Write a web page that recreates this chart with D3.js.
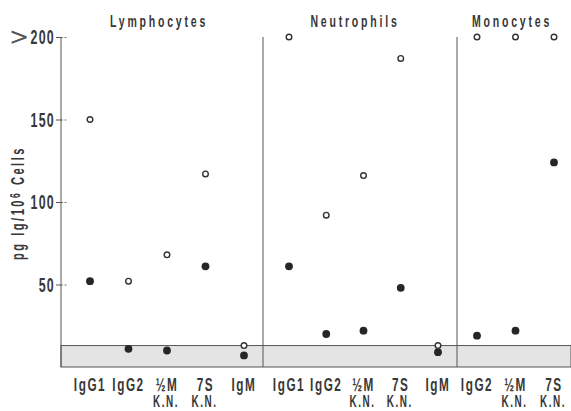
<!DOCTYPE html>
<html>
<head>
<meta charset="utf-8">
<script src="https://cdn.jsdelivr.net/npm/d3@7"></script>
<style>
  body { margin: 0; background: #fff; }
  svg { display: block; }
  text { font-family: "Liberation Sans", Arial, sans-serif; font-weight: bold; fill: #383838; }
</style>
</head>
<body>
<script>
// Values (pg Ig / 10^6 cells); open = circles, filled = dots
const panelNames = ['Lymphocytes', 'Neutrophils', 'Monocytes'];
const lymphCats = ['IgG1', 'IgG2', '½M', '7S', 'IgM'];
const neutroCats = ['IgG1', 'IgG2', '½M', '7S', 'IgM'];
const monoCats = ['IgG2', '½M', '7S'];
const lymphOpen = [150, 52, 68, 117, 13];
const lymphFilled = [52, 11, 10, 61, 7];
const neutroOpen = [200, 92, 116, 187, 13];
const neutroFilled = [61, 20, 22, 48, 9];
const monoOpen = [200, 200, 200];
const monoFilled = [19, 22, 124];
const subLabels = {'½M': 'K.N.', '7S': 'K.N.'};
const yTicks = [50, 100, 150, 200];
const bandTop = 13;

const width = 571;
const height = 411;
const axisX = 61;
const squeeze = 0.62; // the original type is a condensed face

const svg = d3.select('body').append('svg')
  .attr('width', width)
  .attr('height', height);

const y = d3.scaleLinear().domain([0, 200]).range([367, 37]);

// condensed-looking text: squeeze along the baseline
function cText(sel, x, yy, str, size, spacing, anchor = 'middle') {
  return sel.append('text')
    .attr('transform', `translate(${x},${yy}) scale(${squeeze},1)`)
    .attr('text-anchor', anchor)
    .style('font-size', `${size}px`)
    .style('letter-spacing', `${spacing}px`)
    .text(str);
}

// panel layout: [left edge, right edge, first point, last point, title x]
const layout = [
  [axisX, 263, 90, 244, 159],
  [263, 457, 289, 438, 355],
  [457, 600, 477, 554, 512]
];
const panels = [
  {cats: lymphCats, open: lymphOpen, filled: lymphFilled},
  {cats: neutroCats, open: neutroOpen, filled: neutroFilled},
  {cats: monoCats, open: monoOpen, filled: monoFilled}
];

// shaded band near zero
svg.append('rect')
  .attr('x', axisX)
  .attr('y', y(bandTop))
  .attr('width', width - axisX)
  .attr('height', y(0) - y(bandTop))
  .attr('fill', '#e4e4e4')
  .attr('stroke', '#555')
  .attr('stroke-width', 1);

// y axis
const yAxis = svg.append('g')
  .attr('transform', `translate(${axisX},0)`)
  .call(d3.axisLeft(y).tickValues(yTicks).tickSize(5).tickFormat(''));
yAxis.select('.domain').remove();
yAxis.append('line')
  .attr('y1', y(200)).attr('y2', y(0))
  .attr('stroke', '#555');
yAxis.selectAll('.tick line').attr('stroke', '#555');
yAxis.selectAll('.tick').append('line')
  .attr('x2', 7)
  .attr('stroke', '#777')
  .attr('stroke-dasharray', '2,1.5');

yTicks.forEach((t) => {
  cText(svg, 55, y(t) + 7, t, 20, 2, 'end');
});
svg.append('text')
  .attr('x', 9)
  .attr('y', y(200) + 8)
  .style('font-weight', 'normal')
  .style('font-family', 'DejaVu Sans, sans-serif')
  .style('font-size', '24px')
  .style('fill', '#555')
  .text('>');

// y axis title
const yt = svg.append('text')
  .attr('transform', `translate(24,203) rotate(-90) scale(${squeeze},1)`)
  .attr('text-anchor', 'middle')
  .style('font-size', '18px')
  .style('letter-spacing', '4px');
yt.append('tspan').text('pg Ig/10');
yt.append('tspan').attr('dy', -4).style('font-size', '14px').text('6');
yt.append('tspan').attr('dy', 4).text(' Cells');

panels.forEach((p, i) => {
  const [x0, x1, p0, p1, tx] = layout[i];
  const x = d3.scalePoint().domain(p.cats).range([p0, p1]);
  const g = svg.append('g');

  if (i > 0) {
    g.append('line')
      .attr('x1', x0).attr('x2', x0)
      .attr('y1', y(200)).attr('y2', y(0))
      .attr('stroke', '#555');
  }

  cText(g, tx, 27, panelNames[i], 17, 4.5);

  const pts = p.cats.map((c, j) => ({c, open: p.open[j], filled: p.filled[j]}));

  g.selectAll('.filled').data(pts).enter().append('circle')
    .attr('class', 'filled')
    .attr('cx', (d) => x(d.c))
    .attr('cy', (d) => y(d.filled))
    .attr('r', 3.9)
    .attr('fill', '#262626');

  g.selectAll('.open').data(pts).enter().append('circle')
    .attr('class', 'open')
    .attr('cx', (d) => x(d.c))
    .attr('cy', (d) => y(d.open))
    .attr('r', 2.8)
    .attr('fill', '#fff')
    .attr('stroke', '#333')
    .attr('stroke-width', 1.4);

  p.cats.forEach((c) => {
    cText(g, x(c), 391, c, 19, 2.5);
    if (subLabels[c]) cText(g, x(c) - 1, 407, subLabels[c], 16, 2.5);
  });
});
</script>
</body>
</html>
